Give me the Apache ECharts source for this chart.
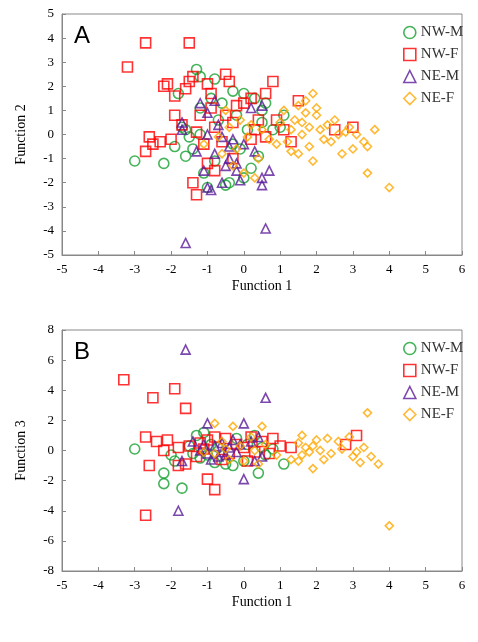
<!DOCTYPE html>
<html><head><meta charset="utf-8">
<script src="https://cdn.jsdelivr.net/npm/echarts@6/dist/echarts.min.js"></script>
<style>html,body{margin:0;padding:0;background:#fff}#c{width:478px;height:642px}</style>
</head><body><div id="c"></div>
<script>
// Panel A: [Function 1, Function 2]
const nwmA = [[-3,-1.1],[-2.2,-1.2],[-1.3,2.7],[-1.2,2.4],[-0.8,2.3],[-1.8,1.7],[-1.6,0.2],[-1.5,-0.1],[-1.7,0.3],[-1.2,1.1],[-0.9,1.5],[-0.6,1.3],[-0.3,1.8],[0.0,1.7],[0.3,1.5],[0.6,1.3],[1.1,0.8],[0.5,0.5],[-0.2,0.8],[-1.4,-0.6],[-1.6,-0.9],[-1.1,-1.6],[-1.0,-2.2],[-0.5,-2.1],[-0.4,-2.0],[0.0,-1.8],[0.2,-1.4],[-0.8,-1.1],[-0.3,-0.4],[0.1,0.2],[-1.9,-0.5],[-1.2,0.0],[0.4,-0.9],[0.8,0.2],[-0.7,0.6],[1.0,0.3],[-0.1,-0.6],[0.5,1.0]];
const nwfA = [[-3.2,2.8],[-2.7,3.8],[-1.5,3.8],[-2.1,2.1],[-2.2,2.0],[-1.9,1.6],[-1.5,2.2],[-1.4,2.4],[-1.6,1.9],[-1.0,2.1],[-0.9,1.7],[-0.5,2.5],[-0.4,2.2],[0.2,1.5],[0.0,1.3],[-0.2,1.2],[0.6,1.7],[0.8,2.2],[1.5,1.4],[-1.9,0.8],[-2.6,-0.1],[-2.5,-0.4],[-2.7,-0.7],[-2.3,-0.3],[-2.0,-0.2],[-1.7,0.4],[-1.3,0.1],[-1.1,-0.4],[-0.8,0.3],[-0.5,0.8],[-0.3,0.5],[0.3,0.2],[0.9,0.6],[1.1,0.2],[0.6,-0.1],[-1.4,-2.0],[-1.3,-2.5],[-0.8,-1.5],[-0.3,-1.0],[-0.6,-0.3],[2.5,0.2],[3.0,0.3],[1.3,-0.3],[-1.0,-1.2],[0.2,-0.2],[-1.2,0.8],[-0.9,1.1],[0.4,0.6]];
const nemA = [[-1.6,-4.5],[0.6,-3.9],[-1.7,0.5],[-1.7,0.2],[-1.2,1.3],[-1.0,0.9],[-0.8,1.4],[0.2,1.1],[0.5,1.2],[-1.0,0.0],[-0.6,-0.1],[-0.3,-0.2],[-0.8,-0.8],[-0.4,-1.0],[-0.5,-1.3],[-0.2,-1.5],[-1.1,-1.5],[-1.0,-2.2],[-0.9,-2.3],[-0.6,-2.0],[-0.1,-1.9],[0.5,-1.8],[0.7,-1.5],[0.5,-2.1],[-0.4,-0.5],[0.0,-0.4],[-1.3,-0.7],[0.3,-0.7],[-0.7,0.4],[-0.2,-1.2]];
const nefA = [[1.9,1.7],[1.7,1.4],[1.5,1.2],[2.0,0.8],[1.4,0.6],[1.6,0.5],[1.8,0.3],[2.1,0.2],[2.3,0.4],[2.5,0.6],[2.8,0.1],[3.1,0.0],[3.3,-0.3],[3.6,0.2],[3.4,-0.5],[3.0,-0.6],[1.2,-0.3],[1.3,-0.7],[1.5,-0.8],[1.9,-1.1],[2.7,-0.8],[3.4,-1.6],[4.0,-2.2],[0.9,-0.4],[0.5,0.2],[0.2,0.4],[-0.1,0.6],[-0.4,0.3],[-0.7,-0.1],[-1.1,-0.4],[-0.6,-0.8],[-0.3,-1.3],[0.0,-1.6],[0.4,-1.0],[0.7,-0.2],[1.0,0.5],[1.6,0.0],[2.2,-0.2],[2.4,-0.3],[1.8,-0.5],[1.3,0.2],[2.6,0.0],[2.9,0.3],[2.0,1.1],[1.1,1.0],[-0.2,-0.6],[0.3,-1.8],[-0.5,1.0],[0.1,-0.1],[1.7,0.9]];
// Panel B: [Function 1, Function 3]
const nwmB = [[-3,0.1],[-2.2,-1.5],[-2.2,-2.2],[-1.7,-2.5],[-1.9,-0.7],[-2.0,-0.3],[-1.5,0.3],[-1.3,1.0],[-1.1,1.2],[-0.9,0.4],[-1.2,-0.5],[-0.8,-0.8],[-0.5,-0.9],[-0.3,-1.0],[0.0,-0.7],[0.3,1.0],[0.5,0.2],[1.1,-0.9],[0.8,0.1],[0.4,-1.5],[-0.7,0.2],[-0.2,0.8],[-1.4,-0.2],[0.1,0.4],[-1.0,-0.3],[0.6,-0.3]];
const nwfB = [[-3.3,4.7],[-2.5,3.5],[-1.9,4.1],[-1.6,2.8],[-2.7,-4.3],[-2.7,0.9],[-2.4,0.6],[-2.1,0.7],[-2.6,-1.0],[-2.2,0.0],[-1.8,0.2],[-1.8,-1.0],[-1.6,-0.9],[-1.5,0.3],[-1.2,0.5],[-1.0,0.7],[-0.8,0.9],[-0.5,0.8],[-0.2,0.4],[0.0,0.2],[0.2,0.9],[0.5,0.6],[0.8,0.8],[1.0,0.3],[1.3,0.2],[-1.0,-1.9],[-0.8,-2.6],[-0.6,-0.6],[0.3,-0.1],[-1.3,-0.4],[-0.4,-0.2],[2.8,0.4],[3.1,1.0],[0.7,-0.2],[-1.1,0.1],[0.1,-0.7]];
const nemB = [[-1.6,6.7],[0.6,3.5],[-1.8,-4.0],[-1.0,1.8],[0.0,1.8],[-1.4,0.6],[-1.2,0.0],[-1.0,-0.2],[-0.8,0.3],[-0.6,0.5],[-0.4,0.2],[-0.2,-0.1],[-0.7,-0.4],[-0.9,-0.6],[-0.1,0.4],[0.2,0.6],[0.5,-0.4],[0.3,-0.7],[0.0,-1.9],[-1.7,-0.7],[-0.5,-0.3],[-0.3,0.7],[0.4,0.9],[-1.1,0.4],[-0.6,-0.1]];
const nefB = [[-0.8,1.8],[-0.3,1.6],[0.5,1.6],[1.6,1.0],[2.3,0.8],[3.4,2.5],[4.0,-5.0],[1.5,0.5],[1.7,0.2],[1.9,0.3],[2.1,0.0],[2.4,-0.2],[2.7,0.1],[3.0,-0.4],[3.2,-0.8],[3.5,-0.4],[3.7,-0.9],[3.3,0.2],[1.5,-0.7],[1.3,-0.6],[1.9,-1.2],[2.2,-0.6],[1.8,-0.1],[2.6,0.6],[0.2,0.9],[-0.1,0.3],[-0.5,0.1],[-0.8,-0.2],[-0.4,-0.6],[0.0,-0.7],[0.3,0.0],[0.6,0.4],[0.9,-0.3],[-1.1,-0.1],[-0.6,0.6],[2.0,0.7],[1.6,-0.3],[2.9,0.9],[3.1,-0.1],[0.4,-0.9]];

const groups = [
  {name: 'NW-M', symbol: 'circle', color: '#15a030', size: 10},
  {name: 'NW-F', symbol: 'rect', color: '#ff0000', size: 10},
  {name: 'NE-M', symbol: 'triangle', color: '#5a1a9a', size: 9},
  {name: 'NE-F', symbol: 'diamond', color: '#ffa800', size: 8}
]
const dataA = [nwmA, nwfA, nemA, nefA]
const dataB = [nwmB, nwfB, nemB, nefB]

const font = 'Liberation Serif'
function xAxis(idx) {
  return {
    gridIndex: idx, type: 'value', min: -5, max: 6, interval: 1,
    name: 'Function 1', nameLocation: 'middle', nameGap: 24,
    nameTextStyle: {fontFamily: font, fontSize: 14, color: '#000'},
    axisLine: {onZero: false, lineStyle: {color: '#888'}},
    axisTick: {inside: true, length: 4, lineStyle: {color: '#888'}},
    axisLabel: {fontFamily: font, fontSize: 13, color: '#000'},
    splitLine: {show: false}
  }
}
function yAxis(idx, name, min, max, step) {
  return {
    gridIndex: idx, type: 'value', min: min, max: max, interval: step,
    name: name, nameLocation: 'middle', nameGap: 34,
    nameTextStyle: {fontFamily: font, fontSize: 14, color: '#000'},
    axisLine: {onZero: false, lineStyle: {color: '#888'}},
    axisTick: {inside: true, length: 4, lineStyle: {color: '#888'}},
    axisLabel: {fontFamily: font, fontSize: 13, color: '#000'},
    splitLine: {show: false}
  }
}

let series = []
;[dataA, dataB].forEach((set, gi) => {
  groups.forEach((g, i) => {
    series.push({
      type: 'scatter', name: g.name, xAxisIndex: gi, yAxisIndex: gi,
      symbol: g.symbol, symbolSize: g.size, data: set[i],
      itemStyle: {color: 'rgba(255,255,255,0)', borderColor: g.color, borderWidth: 1.6}
    })
  })
})

function legend(top) {
  return {
    orient: 'vertical', left: 398, top: top, itemGap: 7, itemWidth: 12, itemHeight: 12,
    data: groups.map(g => ({name: g.name, icon: g.symbol, itemStyle: {color: 'rgba(255,255,255,0)', borderColor: g.color, borderWidth: 1.6}})),
    textStyle: {fontFamily: font, fontSize: 15, color: '#333'},
    selectedMode: false
  }
}

let chart = echarts.init(document.getElementById('c'))
chart.setOption({
  animation: false,
  grid: [
    {left: 62, right: 16, top: 14, height: 241, show: true, borderColor: '#888', borderWidth: 1},
    {left: 62, right: 16, top: 330, height: 241, show: true, borderColor: '#888', borderWidth: 1}
  ],
  xAxis: [xAxis(0), xAxis(1)],
  yAxis: [yAxis(0, 'Function 2', -5, 5, 1), yAxis(1, 'Function 3', -8, 8, 2)],
  legend: [legend(20), legend(336)],
  graphic: [
    {type: 'text', left: 74, top: 24, style: {text: 'A', font: '24px Arial', fill: '#000'}},
    {type: 'text', left: 74, top: 340, style: {text: 'B', font: '24px Arial', fill: '#000'}}
  ],
  series: series
})
</script>
</body></html>
